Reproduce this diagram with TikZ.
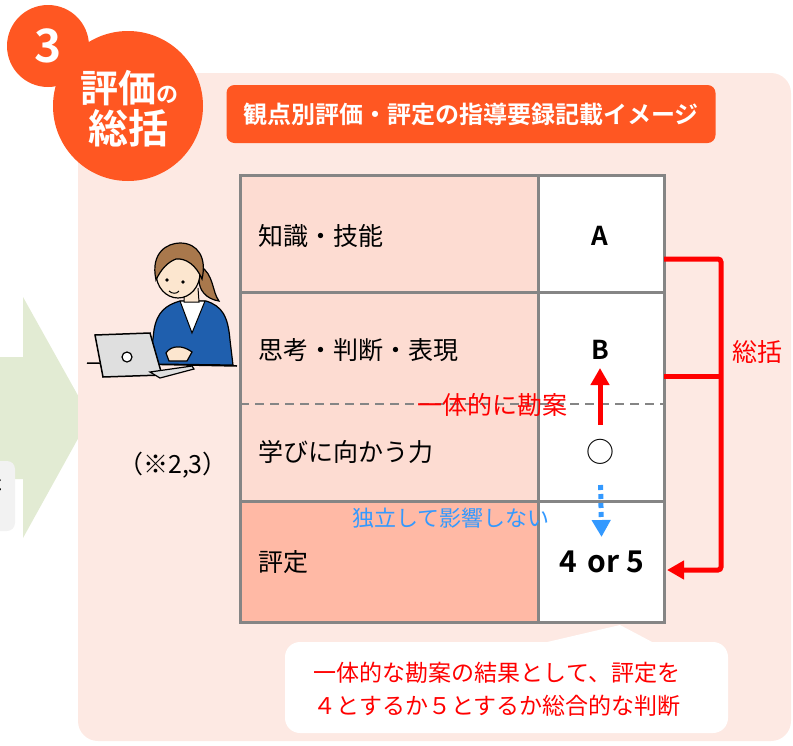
\documentclass[tikz,border=0pt]{standalone}
\usepackage{fontspec}
\setmainfont{Noto Sans CJK JP}[BoldFont={Noto Sans CJK JP Bold}]
\usetikzlibrary{calc,arrows.meta,positioning}

\definecolor{bgpink}{HTML}{FDE9E3}
\definecolor{cellpink}{HTML}{FDDCD2}
\definecolor{cellsalmon}{HTML}{FFB9A5}
\definecolor{accent}{HTML}{FF5722}
\definecolor{arrowgreen}{HTML}{E2EBD3}
\definecolor{noteblue}{HTML}{3399FF}
\definecolor{gridgray}{HTML}{858585}
\definecolor{suitblue}{HTML}{1F5FAE}
\definecolor{hairbrown}{HTML}{A9784C}
\definecolor{skin}{HTML}{FCE6CF}

\newcommand{\pxsize}[1]{\fontsize{#1}{#1}\selectfont}

\tikzset{
  txt/.style={inner sep=0pt},
  rowlbl/.style={txt,anchor=west,font=\pxsize{25}},
  grade/.style={txt,font=\bfseries\pxsize{26}},
  gridline/.style={draw=gridgray,line width=3pt},
  upnote/.style={red,line width=5pt,-{Triangle[width=18pt,length=17pt]}},
  downnote/.style={noteblue,line width=5pt,dash pattern=on 5pt off 4pt,-{Triangle[width=18pt,length=17pt]}},
  bracket/.style={red,line width=5pt,rounded corners=3pt}
}

\begin{document}
\begin{tikzpicture}[x=1pt,y=-1pt]
  \useasboundingbox (0,0) rectangle (793,745);

  % 左侧绿色箭头与灰色框
  \fill[arrowgreen] (0,357) -- (23,357) -- (23,297) -- (90,417) -- (23,538) -- (23,479) -- (0,479) -- cycle;
  \fill[gray!10,rounded corners=8pt] (-12,461) rectangle (15,531);
  \begin{scope}
    \clip (0,455) rectangle (15,535);
    \node[txt,font=\pxsize{22}] (frag) at (-8,482) {た};
  \end{scope}

  % 粉色背景
  \fill[bgpink,rounded corners=20pt] (78,73) rectangle (791,741);

  % 标题圆
  \fill[accent] (48,46) circle (41pt);
  \fill[accent] (128,106) circle (75pt);
  \node[txt,white,font=\bfseries\pxsize{46}] (num) at (48,46) {3};
  \node[txt,white,font=\bfseries\pxsize{38}] (hk) at (129,88) {評価\pxsize{22}の};
  \node[txt,white,font=\bfseries\pxsize{40}] (sk0) at (128,128) {総括};

  % 标题框
  \node[fill=accent,rounded corners=8pt,minimum width=489pt,minimum height=58pt,
        text=white,font=\bfseries\pxsize{24}] (title) at (471,114) {観点別評価・評定の指導要録記載イメージ};

  % 表格
  \fill[cellpink] (240,175) rectangle (538,501);
  \fill[cellsalmon] (240,501) rectangle (538,622);
  \fill[white] (538,175) rectangle (664,622);
  \draw[gridgray,line width=2pt,dash pattern=on 9pt off 6pt] (240,404) -- (664,404);
  \draw[gridline] (240,175) rectangle (664,622);
  \draw[gridline] (538,175) -- (538,622);
  \draw[gridline] (240,292) -- (664,292);
  \draw[gridline] (240,501) -- (664,501);

  \node[rowlbl] (chi) at (258,236) {知識・技能};
  \node[rowlbl] (shi) at (258,350) {思考・判断・表現};
  \node[rowlbl] (man) at (258,452) {学びに向かう力};
  \node[rowlbl] (hyo) at (258,562) {評定};

  \node[grade] (gA) at (600,236) {A};
  \node[grade] (gB) at (600,350) {B};
  \node[txt,font=\pxsize{28}] (gC) at (600,452) {○};
  \node[grade,font=\bfseries\pxsize{30}] (g45) at (602,562) {4\hspace{10pt}or 5};

  % 箭头与说明
  \node[txt,red,font=\pxsize{25}] (ittai) at (492,405) {一体的に勘案};
  \draw[upnote,shorten <=27pt,shorten >=18pt] (gC.center) -- (gB.center);
  \draw[downnote,shorten <=33pt,shorten >=25pt] (gC.center) -- (g45.center);
  \node[txt,noteblue,font=\pxsize{22}] (doku) at (451,518) {独立して影響しない};

  % 总括括号
  \coordinate (r1) at (664,259);
  \coordinate (r2) at (664,376);
  \coordinate (r3) at (667,570);
  \coordinate (bk) at (721,0);
  \draw[bracket,-{Triangle[width=18pt,length=17pt]}] (r1) -- (r1 -| bk) -- (r3 -| bk) -- (r3);
  \draw[bracket] (r2) -- (r2 -| bk);
  \node[txt,red,font=\pxsize{25}] (sk) at (757,352) {総括};

  % 人物与电脑
  \draw[line width=1.5pt] (87,363) -- (237,366);
  \draw[line width=1.2pt,fill=suitblue] (150,364) -- (154,330) .. controls (157,312) and (166,305) .. (180,301)
    -- (206,301) .. controls (222,306) and (228,316) .. (230,340) -- (233,365) -- cycle;
  \draw[line width=1pt,fill=white] (180,301) -- (205,301) -- (192,333) -- cycle;
  \draw[line width=1pt,fill=skin] (184,289) -- (184,302) -- (199,302) -- (198,288);
  \draw[line width=1.2pt,fill=hairbrown] (200,266) .. controls (214,274) and (212,292) .. (219,301)
    .. controls (206,299) and (199,290) .. (199,280);
  \draw[line width=1.2pt,fill=skin] (178,273) ellipse (22pt and 25pt);
  \draw[line width=1.2pt,fill=hairbrown] (156,280) .. controls (150,252) and (168,243) .. (180,243)
    .. controls (198,243) and (207,258) .. (202,279) .. controls (196,265) and (186,258) .. (176,259)
    .. controls (168,262) and (161,269) .. (156,280) -- cycle;
  \fill (167,280) circle (1.8pt);
  \fill (183,282) circle (1.8pt);
  \draw[line width=1pt] (169,291) .. controls (172,294) and (177,294) .. (179,291);
  \draw[line width=1.2pt,fill=skin] (166,353) .. controls (171,345) and (183,345) .. (192,352)
    -- (187,361) -- (169,361) -- cycle;
  \draw[line width=1.5pt,fill=gray!25] (95,335) -- (150,333) -- (162,375) -- (103,377) -- cycle;
  \draw[line width=1.2pt,fill=white] (127,357) circle (5pt);
  \draw[line width=1.2pt,fill=gray!25] (150,372) -- (192,366) -- (194,369) -- (160,378) -- cycle;

  \node[txt,font=\pxsize{25}] (note) at (173,465) {（※2,3）};

  % 吹き出し
  \fill[white,rounded corners=15pt] (285,642) rectangle (728,733);
  \fill[white] (543,643) -- (620,625) -- (654,643) -- cycle;
  \node[txt,red,align=center,font=\fontsize{23}{33}\selectfont] (call) at (497,689)
    {一体的な勘案の結果として、評定を\\４とするか５とするか総合的な判断};
\end{tikzpicture}
\end{document}
